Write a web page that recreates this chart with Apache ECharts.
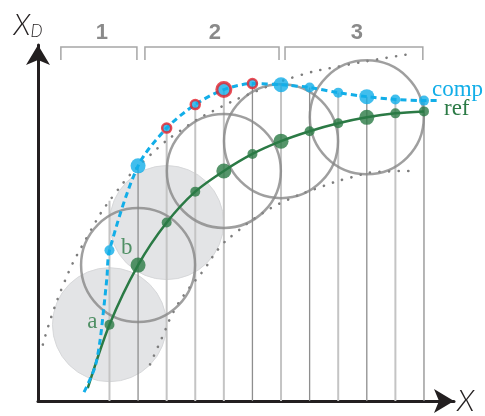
<!DOCTYPE html>
<html><head><meta charset="utf-8">
<script src="https://cdn.jsdelivr.net/npm/echarts/dist/echarts.min.js"></script>
<style>html,body{margin:0;padding:0;background:#fff}#c{width:485px;height:416px}</style>
</head><body><div id="c"></div>
<script>
// ---- data (axis units) ----
const xs = [2.5, 3.5, 4.5, 5.5, 6.5, 7.5, 8.5, 9.5, 10.5, 11.5, 12.5, 13.5];
const refY = [2.69, 4.79, 6.29, 7.38, 8.11, 8.71, 9.16, 9.51, 9.79, 10.0, 10.14, 10.21];
const compY = [5.31, 8.29, 9.62, 10.45, 10.98, 11.19, 11.15, 11.05, 10.87, 10.73, 10.63, 10.59];
const refStart = [1.74, 0.45];
// lower part of the comp trace, before its first marker
const compLead = [[1.61, 0.31], [1.99, 1.19], [2.17, 2.13], [2.29, 3.18], [2.41, 4.34]];
const compEnd = [13.99, 10.59];
const stemTop = [7.06, 8.29, 9.62, 10.45, 10.98, 11.19, 11.15, 11.05, 10.87, 10.73, 10.63, 10.59];
const upperEnvelope = [[0.17,1.99],[0.84,3.99],[1.75,5.84],[2.69,7.31],[3.85,8.60],[5.21,9.69],[6.43,10.38],[7.34,10.80],[8.99,11.43],[10.66,11.82],[13.08,12.24]];
const lowerEnvelope = [[3.92,1.29],[4.34,2.24],[4.76,3.18],[5.24,3.92],[5.77,4.58],[6.36,5.42],[6.89,5.91],[7.73,6.54],[8.60,7.03],[9.90,7.55],[10.91,7.87],[11.92,8.08],[12.97,8.11]];
const keyIdx = [1, 4, 6, 9];
const shadedIdx = [0, 2];
const flaggedIdx = [2, 3, 4, 5];
const darkStemIdx = [1, 5, 7, 9, 11];
const bracketFrom = [0.8, 3.74, 8.64];
const bracketTo = [3.46, 8.43, 13.46];
const bracketLabels = ['1', '2', '3'];
const pointLabels = ['a', 'b'];
const seriesNames = ['ref', 'comp'];

// ---- styles ----
const GREEN = '#2b7a45', BLUE = '#12aee8', RED = '#e5202a', GRAY = '#878787';
const SERIF = '"Liberation Serif", "DejaVu Serif", serif';
const SANS = 'Lato, "Liberation Sans", sans-serif';

const refPoints = xs.map((x, i) => {
  const item = { value: [x, refY[i]], symbolSize: keyIdx.includes(i) ? 15 : 10 };
  if (i < pointLabels.length) {
    item.label = {
      show: true, formatter: pointLabels[i], position: 'left',
      offset: i === 0 ? [-2, -3] : [7, -17],
      color: GREEN, fontFamily: SERIF, fontSize: 23
    };
  }
  return item;
});
const compPoints = xs.map((x, i) => {
  const key = keyIdx.includes(i), flag = flaggedIdx.includes(i);
  return {
    value: [x, compY[i]],
    symbolSize: key ? (flag ? 14 : 15) : (flag ? 9 : 10),
    itemStyle: flag ? { borderColor: RED, borderWidth: key ? 3 : 2.5 } : { borderWidth: 0 }
  };
});

const chart = echarts.init(document.getElementById('c'), null, { renderer: 'canvas' });
chart.setOption({
  animation: false,
  backgroundColor: '#fff',
  grid: { left: 38, right: 31, top: 45, bottom: 12 },
  xAxis: {
    type: 'value', min: 0, max: 14.55,
    axisLine: { show: true, onZero: false, symbol: ['none', 'arrow'], symbolSize: [18, 20],
      lineStyle: { color: '#231f20', width: 3 } },
    axisTick: { show: false }, axisLabel: { show: false }, splitLine: { show: false },
    name: 'X', nameLocation: 'end', nameGap: 3,
    nameTextStyle: { fontFamily: SANS, fontStyle: 'italic', fontWeight: 300,
      fontSize: 30, color: '#231f20', padding: [0, 0, 5, 0] }
  },
  yAxis: {
    type: 'value', min: 0, max: 12.55,
    axisLine: { show: true, onZero: false, symbol: ['none', 'arrow'], symbolSize: [18, 20],
      lineStyle: { color: '#231f20', width: 3 } },
    axisTick: { show: false }, axisLabel: { show: false }, splitLine: { show: false },
    name: 'X{d|D}', nameLocation: 'end', nameGap: 5,
    nameTextStyle: {
      color: '#231f20', padding: [0, 20, 0, 0],
      rich: {
        d: { fontFamily: SANS, fontStyle: 'italic', fontWeight: 300, fontSize: 17, color: '#231f20', verticalAlign: 'bottom' }
      },
      fontFamily: SANS, fontStyle: 'italic', fontWeight: 300, fontSize: 29
    }
  },
  series: [
    { // shaded circles
      type: 'scatter', z: 1, silent: true, symbolSize: 114,
      itemStyle: { color: '#e3e4e6', borderColor: '#d7d8da', borderWidth: 1, opacity: 1 },
      data: shadedIdx.map(i => [xs[i], refY[i]])
    },
    { // stems
      type: 'custom', z: 2, silent: true,
      data: xs.map((x, i) => [x, stemTop[i], i]),
      renderItem: function (params, api) {
        const p0 = api.coord([api.value(0), 0]);
        const p1 = api.coord([api.value(0), api.value(1)]);
        const dark = darkStemIdx.includes(api.value(2));
        return { type: 'line', shape: { x1: p0[0], y1: p0[1], x2: p1[0], y2: p1[1] },
          style: { stroke: dark ? '#8e8e8e' : '#c4c4c4', lineWidth: dark ? 1.3 : 2 } };
      }
    },
    { // envelopes
      type: 'line', z: 3, silent: true, clip: false, smooth: 0.5, symbol: 'none',
      lineStyle: { color: '#7d7d7d', width: 2.6, type: [0.1, 9.5], cap: 'round' },
      data: upperEnvelope
    },
    {
      type: 'line', z: 3, silent: true, clip: false, smooth: 0.5, symbol: 'none',
      lineStyle: { color: '#7d7d7d', width: 2.6, type: [0.1, 9.5], cap: 'round' },
      data: lowerEnvelope
    },
    { // outline circles
      type: 'scatter', z: 4, silent: true, symbolSize: 114,
      itemStyle: { color: 'rgba(0,0,0,0)', borderColor: GRAY, borderWidth: 2.5 },
      data: keyIdx.map(i => [xs[i], refY[i]])
    },
    { // ref line
      name: seriesNames[0], type: 'line', z: 5, smooth: 0.3, symbol: 'none',
      lineStyle: { color: GREEN, width: 2.5 },
      data: [refStart, ...xs.map((x, i) => [x, refY[i]])],
      endLabel: { show: true, formatter: seriesNames[0], color: GREEN, fontFamily: SERIF, fontSize: 23, offset: [12, -2] }
    },
    {
      type: 'scatter', z: 6, itemStyle: { color: GREEN }, data: refPoints
    },
    { // comp line
      name: seriesNames[1], type: 'line', z: 7, smooth: 0.3, symbol: 'none',
      lineStyle: { color: BLUE, width: 3, type: [6, 4] },
      data: [...compLead, ...xs.map((x, i) => [x, compY[i]]), compEnd],
      endLabel: { show: true, formatter: seriesNames[1], color: BLUE, fontFamily: SERIF, fontSize: 23, offset: [-14, -11] }
    },
    {
      type: 'scatter', z: 8, itemStyle: { color: BLUE }, data: compPoints
    },
    { // brackets
      type: 'custom', z: 9, silent: true, clip: false,
      data: bracketFrom.map((f, i) => [f, bracketTo[i], i]),
      renderItem: function (params, api) {
        const a = api.coord([api.value(0), 0]), b = api.coord([api.value(1), 0]);
        const yTop = 47, yLeg = 60;
        return { type: 'group', children: [
          { type: 'polyline', shape: { points: [[a[0], yLeg], [a[0], yTop], [b[0], yTop], [b[0], yLeg]] },
            style: { stroke: '#a6a6a6', lineWidth: 1.5, fill: null } },
          { type: 'text', style: { text: bracketLabels[api.value(2)], x: (a[0] + b[0]) / 2 + 3, y: yTop - 3,
            align: 'center', verticalAlign: 'bottom', fontFamily: '"Liberation Sans", sans-serif',
            fontWeight: 'bold', fontSize: 22, fill: '#8a8a8a' } }
        ] };
      }
    }
  ]
});
</script>
</body></html>
